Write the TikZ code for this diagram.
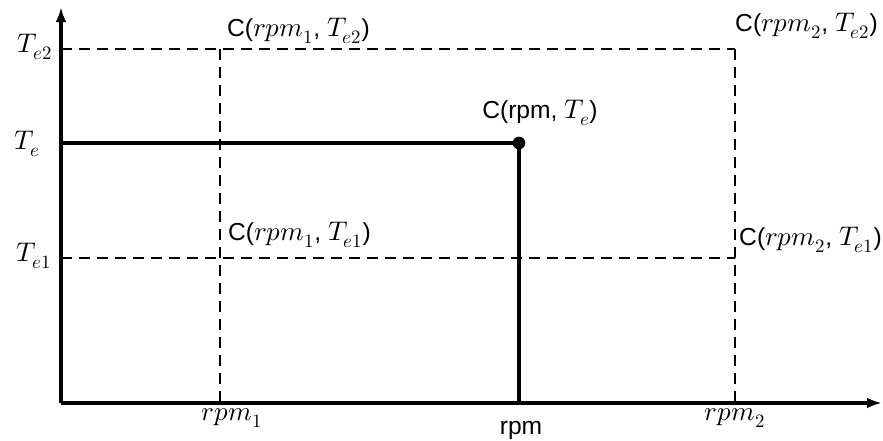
\documentclass[tikz,border=0pt]{standalone}
\usepackage{unicode-math}
\setmainfont{Liberation Sans}
\setmathfont{Latin Modern Math}
\usetikzlibrary{arrows.meta,positioning,calc}
\newcommand{\mth}[1]{{\fontsize{23}{27}\selectfont$#1$}}

\begin{document}
\begin{tikzpicture}[x=0.03cm, y=-0.03cm, >={Latex[length=4.5mm,width=3.2mm]}, font=\fontsize{21}{25}\selectfont]
  \tikzstyle{axis}=[line width=3pt]
  \tikzstyle{grid}=[line width=2.3pt, dash pattern=on 3.3mm off 2.1mm]
  \tikzstyle{level}=[line width=2.8pt]
  \tikzstyle{lbl}=[inner sep=0pt]

  \useasboundingbox (0,0) rectangle (883,440);

  % ------- coordinates -------
  \coordinate (O)     at (61,403);
  \coordinate (ytop)  at (61,7);
  \coordinate (xend)  at (882,403);
  \coordinate (a1)    at (61,49);
  \coordinate (a2)    at (61,258);
  \coordinate (ate)   at (61,143);
  \coordinate (p12)   at (220,49);
  \coordinate (p22)   at (735,49);
  \coordinate (p11)   at (220,258);
  \coordinate (p21)   at (735,258);
  \coordinate (b1)    at (220,403);
  \coordinate (b2)    at (735,403);
  \coordinate (brpm)  at (519,403);
  \node[circle, fill, inner sep=0pt, minimum size=3.8mm] (pt) at (519,143) {};

  % ------- axes -------
  \draw[axis, ->] (O) -- (ytop);
  \draw[axis, ->] (O) -- (xend);

  % ------- grid lines -------
  \draw[grid] (a1) -- (p22);
  \draw[grid] (a2) -- (p21);
  \draw[grid] (p12) -- (b1);
  \draw[grid] (p22) -- (b2);

  % operating point
  \draw[level] (ate) -- (pt.center);
  \draw[level] (pt.center) -- (brpm);

  % ------- labels -------
  \node[lbl] (te2)  at (35,47)  {\mth{T_{e2}}};
  \node[lbl] (te)   at (27,144) {\mth{T_e}};
  \node[lbl] (te1)  at (34,256) {\mth{T_{e1}}};
  \node[lbl] (rpm1) at (232,418) {\mth{rpm_1}};
  \node[lbl] (rpm)  at (521,430) {rpm};
  \node[lbl] (rpm2) at (735,418) {\mth{rpm_2}};

  \node[lbl, anchor=west] (c12) at (227,31)  {C(\mth{rpm_1}, \mth{T_{e2}})};
  \node[lbl, anchor=west] (c22) at (735,26)  {C(\mth{rpm_2}, \mth{T_{e2}})};
  \node[lbl]              (cp)  at (540,113) {C(rpm, \mth{T_e})};
  \node[lbl, anchor=west] (c11) at (228,235) {C(\mth{rpm_1}, \mth{T_{e1}})};
  \node[lbl, anchor=west] (c21) at (739,240) {C(\mth{rpm_2}, \mth{T_{e1}})};
\end{tikzpicture}
\end{document}
